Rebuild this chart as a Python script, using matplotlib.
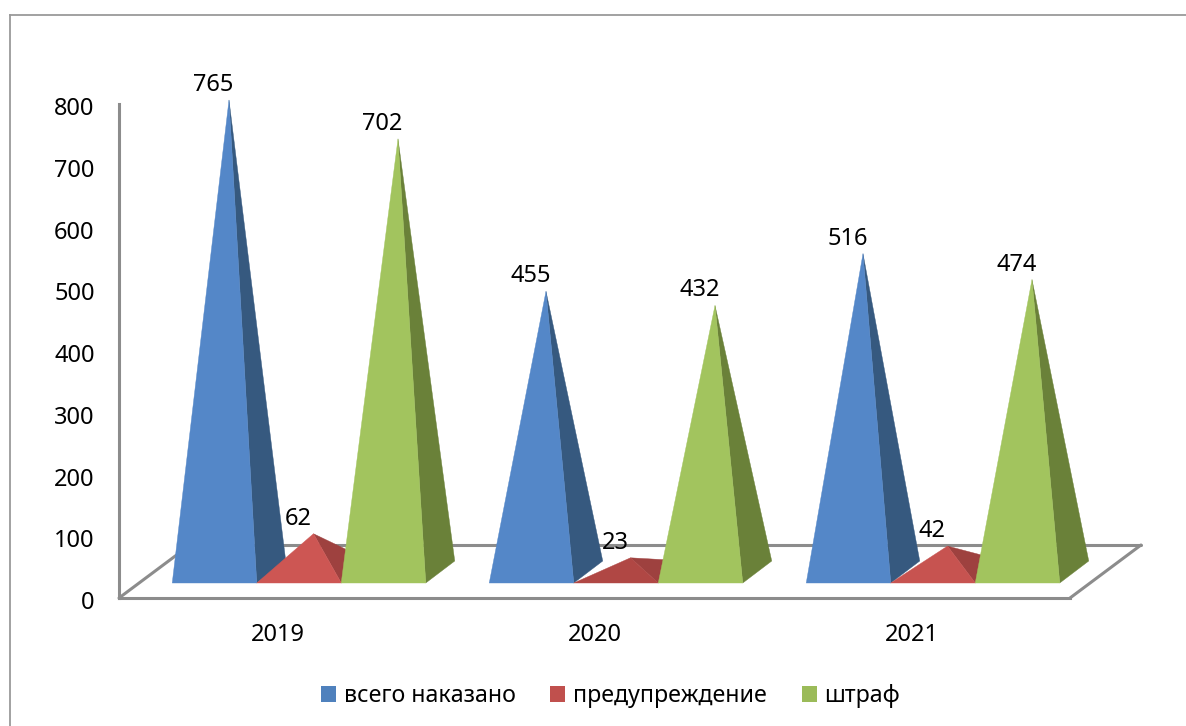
import matplotlib
matplotlib.use("Agg")
import matplotlib.pyplot as plt
from matplotlib.patches import Polygon, Patch
from matplotlib.lines import Line2D
from matplotlib.transforms import ScaledTranslation

years = ["2019", "2020", "2021"]
series_names = ["всего наказано", "предупреждение", "штраф"]
total = [765, 455, 516]
warning = [62, 23, 42]
fine = [702, 432, 474]
y_ticks = [0, 100, 200, 300, 400, 500, 600, 700, 800]

W, H = 1186, 726
plt.rcParams['font.family'] = ['Noto Sans', 'DejaVu Sans']
FS = 17.0
GRAY = '#8c8c8c'

fig = plt.figure(figsize=(W / 100, H / 100), dpi=100, facecolor='white')
ax = fig.add_axes([119 / W, 1 - 598 / H, 951 / W, 493.6 / H])
ax.set_xlim(-0.5, 2.5)
ax.set_ylim(0, 800)
PX = 317.0      # pixels per category
PY = 0.617      # pixels per value unit


def project(x, v, depth_x=0.0, depth_y=0.0):
    """Category/value position moved into the chart's depth, given in pixels."""
    return (x + depth_x / PX, v + depth_y / PY)


# floor and walls
for s in ['top', 'right']:
    ax.spines[s].set_visible(False)
for s in ['left', 'bottom']:
    ax.spines[s].set_color(GRAY)
    ax.spines[s].set_linewidth(2.2)
floor_kw = dict(color=GRAY, lw=2.2, clip_on=False, zorder=1, solid_capstyle='round')
ax.plot(*zip(project(-0.5, 0), project(-0.5, 0, 71, 53)), **floor_kw)
ax.plot(*zip(project(-0.5, 0, 71, 53), project(2.5, 0, 71, 53)), **floor_kw)
ax.plot(*zip(project(2.5, 0, 71, 53), project(2.5, 0)), **floor_kw)

ax.set_yticks(y_ticks)
ax.set_xticks(range(len(years)))
ax.set_xticklabels(years)
ax.tick_params(axis='both', length=0, labelsize=FS, labelcolor='black')
ax.tick_params(axis='y', pad=17.5)
ax.tick_params(axis='x', pad=18)
down = ScaledTranslation(0, -2 / 100, fig.dpi_scale_trans)
for lab in ax.get_yticklabels():
    lab.set_transform(lab.get_transform() + down)

# pyramids
width = 84.5 / PX
FRONT_X, FRONT_Y = 21.5, 15.0
DEPTH_X, DEPTH_Y = 29.0, 22.0
styles = [
    (total, ['#5487C8'] * 3, '#36597F', '#4F81BD'),
    (warning, ['#CD5653', '#B04744', '#C75350'], '#9E413F', '#C0504D'),
    (fine, ['#A2C45E'] * 3, '#6A8139', '#9BBB59'),
]

handles = []
for k, (values, faces, side, legend_color) in enumerate(styles):
    handles.append(Patch(facecolor=legend_color, edgecolor='none', label=series_names[k]))
    for i, v in enumerate(values):
        left = i + (k - 1.5) * width
        right = left + width
        fl = project(left, 0, FRONT_X, FRONT_Y)
        fr = project(right, 0, FRONT_X, FRONT_Y)
        br = project(right, 0, FRONT_X + DEPTH_X, FRONT_Y + DEPTH_Y)
        apex = project(left + width / 2, v, FRONT_X + DEPTH_X / 2, FRONT_Y + DEPTH_Y / 2)
        z = 3 + k
        ax.add_patch(Polygon([fr, br, apex], closed=True, facecolor=side, edgecolor=side,
                             lw=0.3, clip_on=False, zorder=z))
        ax.add_patch(Polygon([fl, fr, apex], closed=True, facecolor=faces[i], edgecolor=faces[i],
                             lw=0.3, clip_on=False, zorder=z + 0.1))
        ax.annotate(str(v), xy=apex, xytext=(-15.5 * 0.72, 15 * 0.72),
                    textcoords='offset points', ha='center', va='center',
                    fontsize=FS, color='black', zorder=10, annotation_clip=False)

# outer chart frame
frame_kw = dict(color='#9a9a9a', lw=1.3, transform=fig.transFigure)
fig.add_artist(Line2D([10 / W, 1], [1 - 14.5 / H, 1 - 14.5 / H], **frame_kw))
fig.add_artist(Line2D([10 / W, 10 / W], [0, 1 - 14.5 / H], **frame_kw))

fig.legend(handles=handles, loc='center', bbox_to_anchor=(610.5 / W, 1 - 696 / H),
           ncol=3, frameon=False, fontsize=16.7, handlelength=0.65, handleheight=0.65,
           handletextpad=0.33, columnspacing=1.5, borderpad=0, borderaxespad=0)

fig.savefig('out.png', dpi=100, facecolor='white')
